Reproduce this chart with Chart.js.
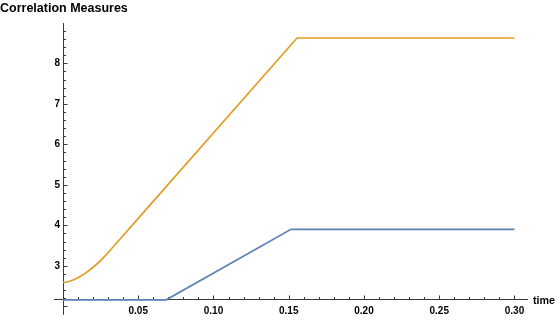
<!DOCTYPE html>
<html>
<head>
<meta charset="utf-8">
<script src="https://cdn.jsdelivr.net/npm/chart.js@4"></script>
<style>
html,body{margin:0;padding:0;background:#fff;}
canvas{display:block;}
</style>
</head>
<body>
<canvas id="c" width="560" height="321"></canvas>
<script>
// ---- data ----
const chartTitle = 'Correlation Measures';
const xAxisLabel = 'time';
const xTicks = [0.05, 0.10, 0.15, 0.20, 0.25, 0.30];
const yTicks = [3, 4, 5, 6, 7, 8];

const orangeT = [0, 0.0025, 0.005, 0.0075, 0.01, 0.0125, 0.015, 0.0175, 0.02, 0.0225, 0.025, 0.0275, 0.03, 0.035, 0.04, 0.05, 0.1555, 0.30];
const orangeV = [2.59, 2.60, 2.625, 2.66, 2.705, 2.76, 2.82, 2.89, 2.965, 3.045, 3.13, 3.225, 3.33, 3.54, 3.75, 4.17, 8.625, 8.625];

const blueT = [0, 0.0686, 0.1515, 0.30];
const blueV = [2.16, 2.16, 3.90, 3.90];

// plot range / axes
const xMin = 0, xMax = 0.309;
const yMin = 2.156, yMax = 8.995;
const yCross = 2.16;          // where the horizontal axis sits
const xAxisFrom = -0.006;     // horizontal axis extends slightly left of 0
const yAxisFrom = 1.79;       // vertical axis extends slightly below the crossing

const FONT = '"Liberation Sans", Arial, Helvetica, sans-serif';
const AXIS_COLOR = '#3a3a3a';

const toXY = (ts, vs) => ts.map((t, i) => ({x: t, y: vs[i]}));

const axesPlugin = {
  id: 'mmaAxes',
  beforeDatasetsDraw(chart) {
    const ctx = chart.ctx;
    const xs = chart.scales.x, ys = chart.scales.y;
    const ax = Math.round(xs.getPixelForValue(0)) + 0.5;
    const ay = Math.round(ys.getPixelForValue(yCross)) - 0.5;
    ctx.save();
    ctx.strokeStyle = AXIS_COLOR;
    ctx.lineWidth = 1;
    ctx.beginPath();
    // horizontal axis
    ctx.moveTo(xs.getPixelForValue(xAxisFrom), ay);
    ctx.lineTo(xs.getPixelForValue(xMax), ay);
    // vertical axis
    ctx.moveTo(ax, ys.getPixelForValue(yMax));
    ctx.lineTo(ax, ys.getPixelForValue(yAxisFrom));
    ctx.stroke();

    // x ticks (inward, upward)
    ctx.beginPath();
    for (let i = 1; i <= 30; i++) {
      const v = i * 0.01;
      const px = Math.round(xs.getPixelForValue(v)) + 0.5;
      const major = i % 5 === 0;
      ctx.moveTo(px, ay);
      ctx.lineTo(px, ay - (major ? 4 : 2.5));
    }
    // y ticks (inward, rightward)
    for (let i = 10; i <= 44; i++) {
      const v = i * 0.2;
      const py = Math.round(ys.getPixelForValue(v)) + 0.5;
      const major = i % 5 === 0;
      ctx.moveTo(ax, py);
      ctx.lineTo(ax + (major ? 4 : 2.5), py);
    }
    ctx.stroke();

    // axis label at the right end of the horizontal axis
    ctx.fillStyle = '#000';
    ctx.font = 'bold 10.7px ' + FONT;
    ctx.textAlign = 'left';
    ctx.textBaseline = 'alphabetic';
    ctx.fillText(xAxisLabel, xs.getPixelForValue(xMax) + 5, ay + 4.5);
    ctx.restore();
  }
};

new Chart(document.getElementById('c'), {
  type: 'line',
  data: {
    datasets: [
      {
        label: 'A',
        data: toXY(blueT, blueV),
        borderColor: '#5E81B5',
        borderWidth: 1.7,
        pointRadius: 0,
        tension: 0,
        fill: false,
        clip: false
      },
      {
        label: 'B',
        data: toXY(orangeT, orangeV),
        borderColor: '#E19C24',
        borderWidth: 1.7,
        pointRadius: 0,
        tension: 0,
        fill: false,
        clip: false
      }
    ]
  },
  options: {
    responsive: false,
    animation: false,
    devicePixelRatio: 1,
    layout: {padding: {left: 0, right: 32, top: 0, bottom: 0}},
    plugins: {
      legend: {display: false},
      tooltip: {enabled: false},
      title: {
        display: true,
        text: chartTitle,
        align: 'start',
        color: '#000',
        font: {family: FONT, size: 12.5, weight: 'bold', lineHeight: 1.2},
        padding: {top: 1.5, bottom: 6.5}
      }
    },
    scales: {
      x: {
        type: 'linear',
        min: xMin,
        max: xMax,
        grid: {display: false, drawTicks: false},
        border: {display: false},
        afterBuildTicks: (s) => { s.ticks = xTicks.map(v => ({value: v})); },
        afterFit: (s) => { s.height = 21; },
        ticks: {
          autoSkip: false,
          maxRotation: 0,
          padding: 5,
          color: '#000',
          font: {family: FONT, size: 10, weight: 'bold'},
          callback: (v) => Number(v).toFixed(2)
        }
      },
      y: {
        type: 'linear',
        min: yMin,
        max: yMax,
        grid: {display: false, drawTicks: false},
        border: {display: false},
        afterBuildTicks: (s) => { s.ticks = yTicks.map(v => ({value: v})); },
        afterFit: (s) => { s.width = 63; },
        ticks: {
          autoSkip: false,
          padding: 3,
          color: '#000',
          font: {family: FONT, size: 10, weight: 'bold'},
          callback: (v) => String(v)
        }
      }
    }
  },
  plugins: [axesPlugin]
});
</script>
</body>
</html>
